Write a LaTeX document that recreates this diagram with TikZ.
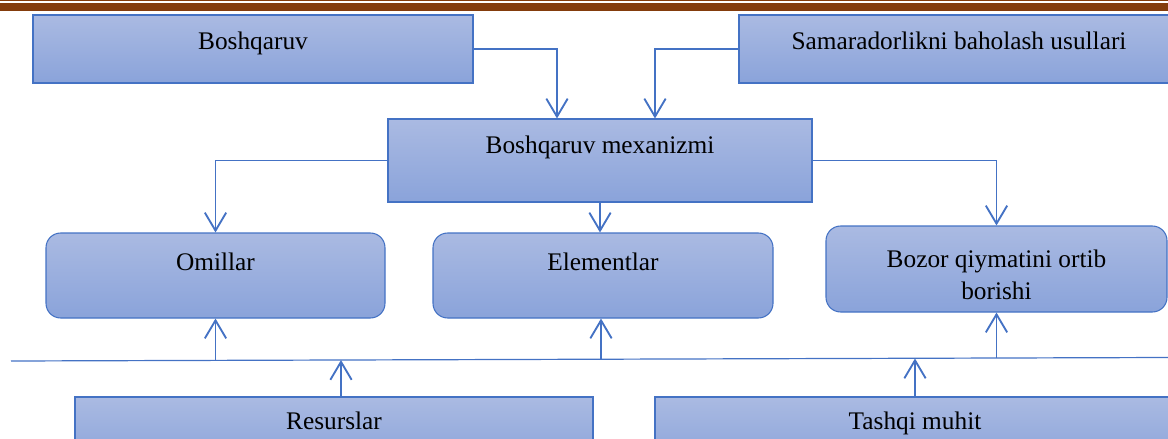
\documentclass[tikz,border=0pt]{standalone}
\usepackage{fontspec}
\setmainfont{Liberation Serif}
\usetikzlibrary{arrows.meta}
\definecolor{bord}{HTML}{4472C4}
\definecolor{topc}{HTML}{AABAE2}
\definecolor{botc}{HTML}{8AA3DA}
\definecolor{brown}{HTML}{843C0C}
\tikzset{
  x=0.75pt, y=-0.75pt,
  txt/.style={font=\fontsize{19}{24}\selectfont},
  box/.style={txt, draw=bord, line width=0.8pt, top color=topc, bottom color=botc,
    inner xsep=0pt, inner ysep=0pt},
  rbox/.style={box, rounded corners=11pt},
  arr/.style={draw=bord, line width=1.4pt, -{Straight Barb[length=13.5pt,width=16pt,line width=1.4pt]}},
  hline/.style={draw=bord, line width=0.9pt}
}
\begin{document}
\begin{tikzpicture}
\useasboundingbox (0,0) rectangle (1168,439);
\clip (0,0) rectangle (1168,439);
% top band
\fill[brown] (0,0) rectangle (1168,1.3);
\fill[brown] (0,3.3) rectangle (1168,10.5);

\node[box, minimum width=330pt, text height=25.5pt, text depth=25.5pt] (B1) at (253,49) {Boshqaruv};
\node[box, minimum width=330pt, text height=25.5pt, text depth=25.5pt] (B2) at (959,49) {Samaradorlikni baholash usullari};
\node[box, minimum width=318pt, text height=25.5pt, text depth=36.75pt] (M) at (600,160.5) {Boshqaruv mexanizmi};
\node[rbox, minimum width=254.25pt, text height=27.75pt, text depth=36pt] (O) at (215.5,275.5) {Omillar};
\node[rbox, minimum width=255pt, text height=27.75pt, text depth=36pt] (E) at (603,275.5) {Elementlar};
\node[rbox, minimum width=255.75pt, minimum height=64.5pt,
  label={[txt, align=center, yshift=-4.5pt]center:Bozor qiymatini ortib\\borishi}] (Bz) at (996.5,269) {};
\node[box, minimum width=388.5pt, text height=24pt, text depth=27pt] (R) at (334,431) {Resurslar};
\node[box, minimum width=390pt, text height=24pt, text depth=27pt] (T) at (915,431) {Tashqi muhit};

% connectors from top
\draw[arr] (B1.east) -| ([xshift=-32.25pt]M.north);
\draw[arr] (B2.west) -| ([xshift=41.25pt]M.north);
\draw[arr] (M.west) -| (O.north);
\draw[arr] (M.east) -| (Bz.north);
\draw[arr] (M.south) -- (M.south |- E.north);

% horizontal line
\coordinate (L1) at (11,361);
\coordinate (L2) at (1168,357.5);
\draw[hline] (L1) -- (L2);

\draw[arr] (O.south |- 0,360.5) -- (O.south);
\draw[arr] ([xshift=-1.5pt]E.south |- 0,359.5) -- ([xshift=-1.5pt]E.south);
\draw[arr] (Bz.south |- 0,358) -- (Bz.south);
\draw[arr] ([xshift=5.25pt]R.north) -- ([xshift=5.25pt]R.north |- 0,360);
\draw[arr] (T.north) -- (T.north |- 0,358.5);
\end{tikzpicture}
\end{document}
